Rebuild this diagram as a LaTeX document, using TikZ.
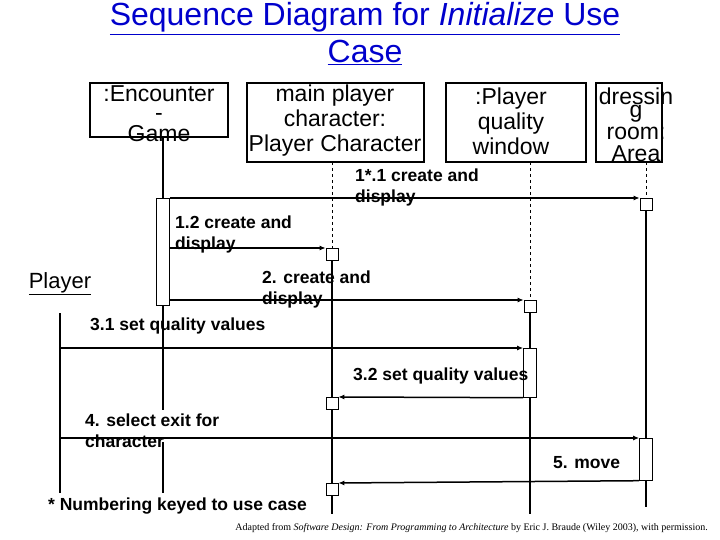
\documentclass[tikz,border=0pt]{standalone}
\usepackage{fontspec}
\setmainfont{Liberation Sans}
\newfontfamily\serifcredit{Liberation Serif}
\usetikzlibrary{arrows.meta}
\begin{document}
\begin{tikzpicture}[x=1pt,y=-1pt,
  otext/.style={align=center,font=\fontsize{23}{25}\selectfont,inner sep=0},
  box/.style={line width=2.6pt},
  life/.style={line width=2.6pt},
  dashline/.style={dashed,line width=0.9pt},
  act/.style={draw,fill=white,line width=0.7pt},
  msg/.style={line width=1.5pt,-{Latex[length=6pt,width=5pt]}},
  lab/.style={font=\bfseries\fontsize{17.5}{21}\selectfont,align=left,anchor=north west,inner sep=0}]
\useasboundingbox (0,0) rectangle (720,540);
% title
\node[font=\fontsize{32}{37}\selectfont,text=blue!80!black,align=center] (title) at (365,34)
 {\underline{Sequence Diagram for \textit{Initialize} Use}\\\underline{Case}};
% object boxes
\draw[box] (90,83) rectangle (228,137);
\node[otext] (enc) at (159,114) {:Encounter\\[-6pt]-\\[-4pt]Game};
\draw[box] (247,83) rectangle (424,162);
\node[otext] (mpc) at (335,121) {main player\\character:\\Player Character};
\draw[box] (446,83) rectangle (586,162);
\node[otext] (pqw) at (511,121) {:Player\\quality\\window};
\draw[box] (596,83) rectangle (662,162);
\node[otext] (dra) at (636,125) {dressin\\[-12pt]g\\[-3pt]room:\\[-3pt]Area};
\node[font=\fontsize{22}{26}\selectfont,inner sep=0] (pl) at (60,284) {\underline{Player}};
% lifelines
\draw[life] (163,137) -- (163,198);
\draw[life] (163,305) -- (163,410);
\draw[life] (163,442) -- (163,493);
\draw[life] (60,313) -- (60,493);
\draw[dashline] (332,162) -- (332,248);
\draw[life] (332,260) -- (332,514);
\draw[dashline] (530,162) -- (530,300);
\draw[life] (530,312) -- (530,514);
\draw[dashline] (646,162) -- (646,198);
\draw[life] (646,210) -- (646,507);
% activations
\node[act,minimum width=13pt,minimum height=107pt,inner sep=0,anchor=north] (a1) at (163,198) {};
\node[act,minimum width=12pt,minimum height=12pt,inner sep=0,anchor=north] (b1) at (332,248) {};
\node[act,minimum width=12pt,minimum height=12pt,inner sep=0,anchor=north] (b2) at (332,397) {};
\node[act,minimum width=12pt,minimum height=12pt,inner sep=0,anchor=north] (b3) at (332,483) {};
\node[act,minimum width=12pt,minimum height=12pt,inner sep=0,anchor=north] (c1) at (530,300) {};
\node[act,minimum width=13pt,minimum height=49pt,inner sep=0,anchor=north] (c2) at (530,348) {};
\node[act,minimum width=12pt,minimum height=12pt,inner sep=0,anchor=north] (d1) at (646,198) {};
\node[act,minimum width=13pt,minimum height=42pt,inner sep=0,anchor=north] (d2) at (646,438) {};
\coordinate (p1) at (60,348);
\coordinate (p2) at (60,438);
% messages
\draw[msg] (a1.north east) -- (d1.north west);
\node[lab] (l1) at (355,169) {1*.1 create and\\display};
\draw[msg] (a1.east |- b1.north) -- (b1.north west);
\node[lab] (l2) at (175,216) {1.2 create and\\display};
\draw[msg] (a1.east |- c1.north) -- (c1.north west);
\node[lab] (l3) at (262,271) {2. create and\\display};
\draw[msg] (p1) -- (c2.north west);
\node[lab] (l4) at (90,318) {3.1 set quality values};
\draw[msg] (c2.south west) -- (b2.north east);
\node[lab] (l5) at (353,368) {3.2 set quality values};
\draw[msg] (p2) -- (d2.north west);
\node[lab] (l6) at (85,414) {4. select exit for\\character};
\draw[msg] (d2.south west) -- (b3.north east);
\node[lab] (l7) at (553,456) {5. move};
\node[lab] (foot) at (48,498) {* Numbering keyed to use case};
\node[font=\serifcredit\fontsize{10}{11}\selectfont,anchor=east,inner sep=0] (cred) at (708,528)
 {Adapted from \textit{Software Design: From Programming to Architecture} by Eric J. Braude (Wiley 2003), with permission.};
\end{tikzpicture}
\end{document}
